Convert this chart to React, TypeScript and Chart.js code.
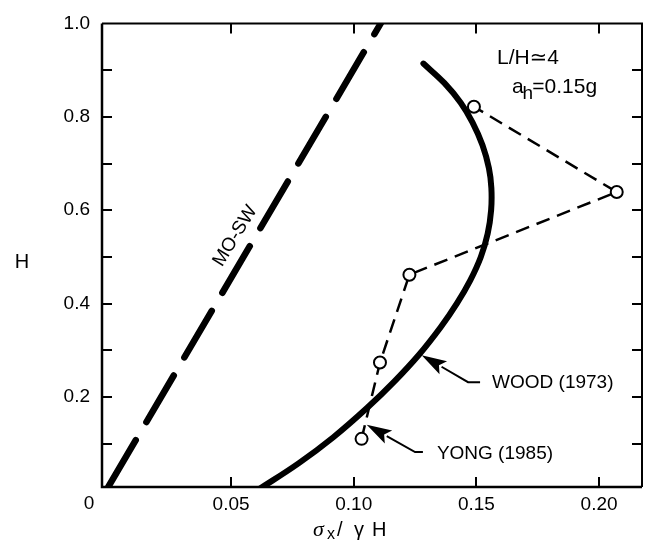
import React, { useEffect, useRef } from 'react';
import { Chart, registerables } from 'chart.js';

Chart.register(...registerables);

// ---- data ----
const moswX = [0, 0.111];
const moswY = [0.008, 1.0];

const woodX = [0.0606, 0.0775, 0.0917, 0.1055, 0.1165, 0.1265, 0.1355, 0.142, 0.1475, 0.1518, 0.1546, 0.156, 0.1561, 0.1551, 0.1525, 0.1484, 0.1436, 0.137, 0.1284];
const woodY = [0.0, 0.058, 0.114, 0.177, 0.233, 0.29, 0.35, 0.4, 0.45, 0.5, 0.55, 0.6, 0.648, 0.69, 0.739, 0.788, 0.83, 0.872, 0.914];

const yongX = [0.1032, 0.1107, 0.1227, 0.2072, 0.149];
const yongY = [0.1105, 0.274, 0.462, 0.639, 0.8216];

const xTickValues = [0, 0.05, 0.1, 0.15, 0.2];
const xTickLabels = ['0', '0.05', '0.10', '0.15', '0.20'];
const yTickValues = [0.1, 0.2, 0.3, 0.4, 0.5, 0.6, 0.7, 0.8, 0.9, 1.0];
const yTickLabels = ['', '0.2', '', '0.4', '', '0.6', '', '0.8', '', '1.0'];

const X_MIN = -0.0026;
const X_MAX = 0.2175;
const Y_MIN = 0.0074;
const Y_MAX = 1.0;

const SANS = '"Liberation Sans", Arial, "DejaVu Sans", sans-serif';

function toPts(xs: number[], ys: number[]) {
  return xs.map((x, i) => ({ x, y: ys[i] }));
}

function drawArrow(ctx: CanvasRenderingContext2D, pts: [number, number][], headLen: number, headW: number) {
  const n = pts.length;
  const [tx, ty] = pts[n - 1];
  const [bx, by] = pts[n - 2];
  const ang = Math.atan2(ty - by, tx - bx);
  const dx = Math.cos(ang), dy = Math.sin(ang);
  const hx = tx - dx * headLen, hy = ty - dy * headLen;
  ctx.beginPath();
  ctx.moveTo(pts[0][0], pts[0][1]);
  for (let i = 1; i < n - 1; i++) ctx.lineTo(pts[i][0], pts[i][1]);
  ctx.lineTo(hx + dx * 2, hy + dy * 2);
  ctx.stroke();
  ctx.beginPath();
  ctx.moveTo(tx, ty);
  ctx.lineTo(hx - dy * headW, hy + dx * headW);
  ctx.lineTo(hx + dx * 5, hy + dy * 5);
  ctx.lineTo(hx + dy * headW, hy - dx * headW);
  ctx.closePath();
  ctx.fill();
}

const annotPlugin = {
  id: 'annot',
  afterDraw(chart: any) {
    const ctx: CanvasRenderingContext2D = chart.ctx;
    const { left, right, top, bottom } = chart.chartArea;
    const xs = chart.scales.x;
    const ys = chart.scales.y;
    const px = (v: number) => xs.getPixelForValue(v);
    const py = (v: number) => ys.getPixelForValue(v);
    ctx.save();
    ctx.strokeStyle = '#000';
    ctx.fillStyle = '#000';

    // inward tick marks
    ctx.lineWidth = 2;
    ctx.beginPath();
    xs.ticks.forEach((t: any) => {
      if (t.value === 0) return;
      const x = Math.round(px(t.value));
      ctx.moveTo(x, bottom);
      ctx.lineTo(x, bottom - 10);
      ctx.moveTo(x, top);
      ctx.lineTo(x, top + 10);
    });
    ys.ticks.forEach((t: any) => {
      if (t.value >= Y_MAX) return;
      const y = Math.round(py(t.value));
      ctx.moveTo(left, y);
      ctx.lineTo(left + 10, y);
      ctx.moveTo(right, y);
      ctx.lineTo(right - 10, y);
    });
    ctx.stroke();

    // frame
    ctx.lineWidth = 2;
    ctx.beginPath();
    ctx.moveTo(left, top);
    ctx.lineTo(right, top);
    ctx.lineTo(right, bottom);
    ctx.stroke();
    ctx.lineWidth = 2.5;
    ctx.beginPath();
    ctx.moveTo(left, top);
    ctx.lineTo(left, bottom);
    ctx.lineTo(right, bottom);
    ctx.stroke();

    // origin "0" label
    ctx.font = '19px ' + SANS;
    ctx.textAlign = 'center';
    ctx.textBaseline = 'middle';
    ctx.fillText(xTickLabels[0], left - 13, bottom + 17);

    // axis titles
    ctx.font = '20px ' + SANS;
    ctx.textAlign = 'center';
    ctx.fillText('H', left - 80, top + 239);

    const base = bottom + 49;
    ctx.textAlign = 'left';
    ctx.textBaseline = 'alphabetic';
    ctx.font = 'italic 22px "Liberation Serif", "DejaVu Serif", serif';
    ctx.fillText('σ', left + 211, base);
    ctx.font = '16px ' + SANS;
    ctx.fillText('x', left + 225, base + 3);
    ctx.font = '20px ' + SANS;
    ctx.fillText('/', left + 235, base);
    ctx.fillText('γ', left + 252, base);
    ctx.fillText('H', left + 270, base);

    // MO-SW label
    ctx.save();
    ctx.translate(px(0.0517), py(0.545));
    ctx.rotate(-58.5 * Math.PI / 180);
    ctx.font = '19px ' + SANS;
    ctx.textAlign = 'center';
    ctx.textBaseline = 'middle';
    ctx.fillText('MO-SW', 0, 0);
    ctx.restore();

    // L/H and a_h
    ctx.textAlign = 'left';
    ctx.textBaseline = 'middle';
    ctx.font = '21px ' + SANS;
    ctx.fillText('L/H≃4', px(0.1584), py(0.9263));
    ctx.textBaseline = 'alphabetic';
    const ay = py(0.8515);
    ctx.fillText('a', px(0.1645), ay);
    ctx.font = '19px ' + SANS;
    ctx.fillText('h', px(0.1688), ay + 6);
    ctx.font = '21px ' + SANS;
    ctx.fillText('=0.15g', px(0.1728), ay);

    // WOOD / YONG labels
    ctx.font = '19px ' + SANS;
    ctx.textBaseline = 'middle';
    ctx.fillText('WOOD (1973)', px(0.1564), py(0.23));
    ctx.fillText('YONG (1985)', px(0.1339), py(0.0796));

    ctx.lineWidth = 2;
    drawArrow(ctx, [[px(0.1515), py(0.2319)], [px(0.1466), py(0.2319)], [px(0.1277), py(0.2896)]], 25, 7.5);
    drawArrow(ctx, [[px(0.1282), py(0.0823)], [px(0.125), py(0.0823)], [px(0.1053), py(0.1407)]], 25, 7.5);

    ctx.restore();
  },
};

export default function App() {
  const ref = useRef<HTMLCanvasElement | null>(null);

  useEffect(() => {
    if (!ref.current) return;
    Chart.defaults.font.family = SANS;
    Chart.defaults.color = '#000';
    const chart = new Chart(ref.current, {
      type: 'scatter',
      data: {
        datasets: [
          {
            label: 'YONG (1985)',
            data: toPts(yongX, yongY),
            showLine: true,
            borderColor: '#000',
            borderWidth: 2.5,
            borderDash: [14, 8],
            pointRadius: 6,
            pointBackgroundColor: '#fff',
            pointBorderColor: '#000',
            pointBorderWidth: 2,
            order: 0,
          } as any,
          {
            label: 'WOOD (1973)',
            data: toPts(woodX, woodY),
            showLine: true,
            borderColor: '#000',
            borderWidth: 6,
            borderCapStyle: 'round',
            borderJoinStyle: 'round',
            tension: 0.4,
            pointRadius: 0,
            clip: 0,
            order: 1,
          } as any,
          {
            label: 'MO-SW',
            data: toPts(moswX, moswY),
            showLine: true,
            borderColor: '#000',
            borderWidth: 6.5,
            borderCapStyle: 'round',
            borderDash: [54, 21],
            pointRadius: 0,
            clip: 0,
            order: 2,
          } as any,
        ],
      },
      options: {
        animation: false,
        responsive: true,
        maintainAspectRatio: false,
        layout: { padding: { left: 0, top: 16, right: 10, bottom: 0 } },
        plugins: {
          legend: { display: false },
          tooltip: { enabled: false },
          title: { display: false },
        },
        scales: {
          x: {
            type: 'linear',
            min: X_MIN,
            max: X_MAX,
            grid: { display: false, drawTicks: false },
            border: { display: false },
            afterBuildTicks: (scale: any) => {
              scale.ticks = xTickValues.map((v) => ({ value: v }));
            },
            afterFit: (scale: any) => {
              scale.height = 59;
            },
            ticks: {
              padding: 6,
              maxRotation: 0,
              autoSkip: false,
              font: { size: 19 },
              color: '#000',
              callback: (_v: any, i: number) => (i === 0 ? '' : xTickLabels[i]),
            },
          },
          y: {
            type: 'linear',
            min: Y_MIN,
            max: Y_MAX,
            grid: { display: false, drawTicks: false },
            border: { display: false },
            afterBuildTicks: (scale: any) => {
              scale.ticks = yTickValues.map((v) => ({ value: v }));
            },
            afterFit: (scale: any) => {
              scale.width = 102;
            },
            ticks: {
              padding: 12,
              autoSkip: false,
              font: { size: 19 },
              color: '#000',
              callback: (_v: any, i: number) => yTickLabels[i],
            },
          },
        },
      } as any,
      plugins: [annotPlugin],
    });
    return () => chart.destroy();
  }, []);

  return (
    <div style={{ position: 'fixed', left: 0, top: 0, width: 652, height: 546, background: '#fff' }}>
      <canvas ref={ref} />
    </div>
  );
}
